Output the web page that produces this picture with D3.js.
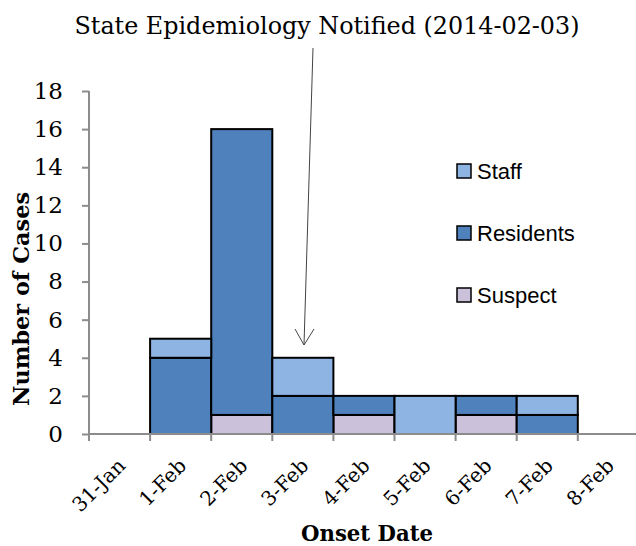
<!DOCTYPE html>
<html>
<head>
<meta charset="utf-8">
<script src="https://cdn.jsdelivr.net/npm/d3@7"></script>
<style>
  body { margin: 0; background: #fff; }
  svg { display: block; }
</style>
</head>
<body>
<svg id="chart" width="636" height="546"></svg>
<script>
// onset dates (category axis) and case counts per group
const dates = ["31-Jan", "1-Feb", "2-Feb", "3-Feb", "4-Feb", "5-Feb", "6-Feb", "7-Feb", "8-Feb"]
const suspect   = [0, 0, 1, 0, 1, 0, 1, 0, 0]
const residents = [0, 4, 15, 2, 1, 0, 1, 1, 0]
const staff     = [0, 1, 0, 2, 0, 2, 0, 1, 0]
const yTicks = [0, 2, 4, 6, 8, 10, 12, 14, 16, 18]
const seriesNames = ["Suspect", "Residents", "Staff"]
const legendOrder = ["Staff", "Residents", "Suspect"]
const annotation = "State Epidemiology Notified (2014-02-03)"

const colors = {Suspect: "#ccc1da", Residents: "#4f81bd", Staff: "#8eb4e3"}

const svg = d3.select("#chart")

const plotLeft = 89
const plotBottom = 434
const plotTop = 91

const rows = dates.map((d, i) => ({date: d, Suspect: suspect[i], Residents: residents[i], Staff: staff[i]}))
const stack = d3.stack().keys(seriesNames)(rows)

const xScale = d3.scaleBand()
    .domain(dates)
    .range([plotLeft, plotLeft + 9 * 61.1])
    .padding(0)
const yScale = d3.scaleLinear()
    .domain([0, 18])
    .range([plotBottom, plotTop])

// bars
svg.append("g")
    .selectAll("g")
    .data(stack)
    .join("g")
    .attr("fill", d => colors[d.key])
    .selectAll("rect")
    .data(d => d.filter(v => v[1] - v[0] > 0))
    .join("rect")
    .attr("x", d => xScale(d.data.date))
    .attr("width", xScale.bandwidth())
    .attr("y", d => yScale(d[1]))
    .attr("height", d => yScale(d[0]) - yScale(d[1]))
    .attr("stroke", "#000")
    .attr("stroke-width", 2)

// y axis
const yAxis = svg.append("g")
    .attr("transform", `translate(${plotLeft},0)`)
    .call(d3.axisLeft(yScale).tickValues(yTicks).tickSize(7).tickPadding(19))
yAxis.selectAll("line, path").attr("stroke", "#8c8c8c").attr("stroke-width", 2)
yAxis.select(".domain").attr("d", `M0,${plotTop}V${plotBottom}`)
yAxis.selectAll("text")
    .attr("font-family", "DejaVu Serif")
    .attr("font-size", 23)
    .attr("fill", "#000")

// x axis, ticks at category boundaries
const xAxis = svg.append("g")
    .attr("transform", `translate(0,${plotBottom})`)
xAxis.append("line")
    .attr("x1", plotLeft).attr("x2", 636)
    .attr("stroke", "#8c8c8c").attr("stroke-width", 2)
xAxis.selectAll(".tk")
    .data(dates)
    .join("line")
    .attr("class", "tk")
    .attr("x1", d => xScale(d)).attr("x2", d => xScale(d))
    .attr("y1", 0).attr("y2", 7)
    .attr("stroke", "#8c8c8c").attr("stroke-width", 2)
xAxis.selectAll(".lbl")
    .data(dates)
    .join("text")
    .attr("class", "lbl")
    .attr("transform", d => `translate(${xScale(d) + xScale.bandwidth() / 2 + 7},${33}) rotate(-45)`)
    .attr("text-anchor", "end")
    .attr("font-family", "DejaVu Serif")
    .attr("font-size", 20)
    .text(d => d)

// axis titles
svg.append("text")
    .attr("transform", "translate(29,299) rotate(-90)")
    .attr("text-anchor", "middle")
    .attr("font-family", "DejaVu Serif")
    .attr("font-weight", "bold")
    .attr("font-size", 22)
    .attr("textLength", 214)
    .attr("lengthAdjust", "spacingAndGlyphs")
    .text("Number of Cases")
svg.append("text")
    .attr("x", 367).attr("y", 541)
    .attr("text-anchor", "middle")
    .attr("font-family", "DejaVu Serif")
    .attr("font-weight", "bold")
    .attr("font-size", 23)
    .attr("textLength", 132)
    .attr("lengthAdjust", "spacingAndGlyphs")
    .text("Onset Date")

// legend
const legend = svg.append("g")
legend.selectAll("g")
    .data(legendOrder)
    .join("g")
    .attr("transform", (d, i) => `translate(457,${164 + i * 62})`)
    .each(function(d){
        const g = d3.select(this)
        g.append("rect").attr("width", 14).attr("height", 14)
            .attr("fill", colors[d]).attr("stroke", "#000").attr("stroke-width", 1.5)
        g.append("text").attr("x", 20).attr("y", 15)
            .attr("font-family", "Liberation Sans")
            .attr("font-size", 22)
            .text(d)
    })

// annotation with arrow
svg.append("text")
    .attr("x", 327).attr("y", 34)
    .attr("text-anchor", "middle")
    .attr("font-family", "DejaVu Serif")
    .attr("font-size", 24)
    .attr("textLength", 505)
    .attr("lengthAdjust", "spacingAndGlyphs")
    .text(annotation)
const tip = [304, 345]
svg.append("path")
    .attr("d", `M313,48L${tip[0]},${tip[1]}M295,329L${tip[0]},${tip[1]}L314,329`)
    .attr("fill", "none")
    .attr("stroke", "#444")
    .attr("stroke-width", 1)
</script>
</body>
</html>
